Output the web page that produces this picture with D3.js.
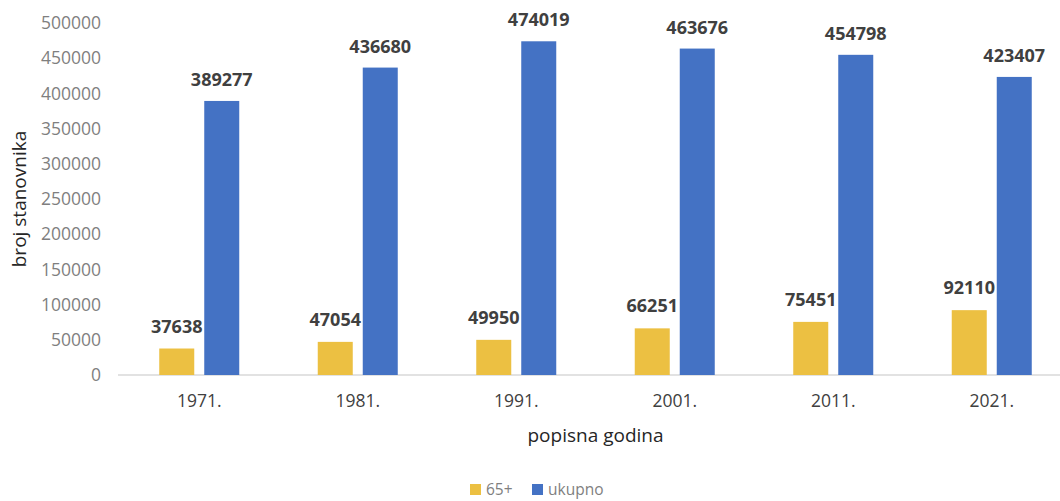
<!DOCTYPE html>
<html>
<head>
<meta charset="utf-8">
<script src="https://cdn.jsdelivr.net/npm/d3@7"></script>
<style>
  body { margin: 0; background: #fff; }
  svg text { font-family: "Open Sans", sans-serif; }
</style>
</head>
<body>
<div id="chart"></div>
<script>
// census years and population counts
var years = ["1971.", "1981.", "1991.", "2001.", "2011.", "2021."];
var elderly = [37638, 47054, 49950, 66251, 75451, 92110];
var total = [389277, 436680, 474019, 463676, 454798, 423407];
var yTicks = [0, 50000, 100000, 150000, 200000, 250000, 300000, 350000, 400000, 450000, 500000];

var svgWidth = 1060;
var svgHeight = 501;

var margin = { top: 23, right: -11, bottom: 126, left: 120 };
var chartWidth = svgWidth - margin.left - margin.right;
var chartHeight = svgHeight - margin.top - margin.bottom;

var svg = d3.select("#chart")
  .append("svg")
  .attr("width", svgWidth)
  .attr("height", svgHeight);

var chartGroup = svg.append("g")
  .attr("transform", `translate(${margin.left}, ${margin.top})`);

var xScale = d3.scaleBand()
  .domain(years)
  .range([0, chartWidth]);

var yScale = d3.scaleLinear()
  .domain([0, 500000])
  .range([chartHeight, 0]);

var barW = 35, gap = 5;

// y axis labels only
var leftAxis = d3.axisLeft(yScale).tickValues(yTicks).tickFormat(d3.format("d")).tickSize(0).tickPadding(19);
var yAxis = chartGroup.append("g").call(leftAxis);
yAxis.select(".domain").remove();
yAxis.selectAll("text").attr("fill", "#7f7f7f").style("font-size", "17.5px");

// x axis baseline
chartGroup.append("line")
  .attr("x1", -2).attr("x2", svgWidth - margin.left)
  .attr("y1", chartHeight).attr("y2", chartHeight)
  .attr("stroke", "#d9d9d9").attr("stroke-width", 1.5);

var bottomAxis = d3.axisBottom(xScale).tickSize(0).tickPadding(20);
var xAxis = chartGroup.append("g")
  .attr("transform", `translate(0, ${chartHeight})`)
  .call(bottomAxis);
xAxis.select(".domain").remove();
xAxis.selectAll("text").attr("fill", "#404040").style("font-size", "17.5px");

// 65+ bars
chartGroup.selectAll(".bar65")
  .data(elderly)
  .enter()
  .append("rect")
  .attr("x", (d, i) => xScale(years[i]) + xScale.bandwidth() / 2 - gap - barW)
  .attr("y", d => yScale(d))
  .attr("width", barW)
  .attr("height", d => chartHeight - yScale(d))
  .attr("fill", "#ecc042");

// total bars
chartGroup.selectAll(".barTot")
  .data(total)
  .enter()
  .append("rect")
  .attr("x", (d, i) => xScale(years[i]) + xScale.bandwidth() / 2 + gap)
  .attr("y", d => yScale(d))
  .attr("width", barW)
  .attr("height", d => chartHeight - yScale(d))
  .attr("fill", "#4472c4");

// value labels
chartGroup.selectAll(".lab65")
  .data(elderly)
  .enter()
  .append("text")
  .attr("x", (d, i) => xScale(years[i]) + xScale.bandwidth() / 2 - gap - barW / 2)
  .attr("y", d => yScale(d) - 16)
  .attr("text-anchor", "middle")
  .attr("fill", "#404040")
  .style("font-size", "18px")
  .style("font-weight", "bold")
  .text(d => d);

chartGroup.selectAll(".labTot")
  .data(total)
  .enter()
  .append("text")
  .attr("x", (d, i) => xScale(years[i]) + xScale.bandwidth() / 2 + gap + barW / 2)
  .attr("y", d => yScale(d) - 15)
  .attr("text-anchor", "middle")
  .attr("fill", "#404040")
  .style("font-size", "18px")
  .style("font-weight", "bold")
  .text(d => d);

// axis titles
chartGroup.append("text")
  .attr("transform", `translate(${-margin.left + 26}, ${chartHeight / 2}) rotate(-90)`)
  .attr("text-anchor", "middle")
  .attr("fill", "#262626")
  .style("font-size", "19px")
  .text("broj stanovnika");

chartGroup.append("text")
  .attr("x", chartWidth / 2)
  .attr("y", chartHeight + 67)
  .attr("text-anchor", "middle")
  .attr("fill", "#262626")
  .style("font-size", "19px")
  .text("popisna godina");

// legend
var legendItems = [["65+", "#ecc042", 470], ["ukupno", "#4472c4", 532]];
var legend = svg.selectAll(".legend")
  .data(legendItems)
  .enter()
  .append("g")
  .attr("transform", d => `translate(${d[2]}, 484)`);
legend.append("rect")
  .attr("width", 11).attr("height", 11)
  .attr("fill", d => d[1]);
legend.append("text")
  .attr("x", 16).attr("y", 11)
  .attr("fill", "#7f7f7f")
  .style("font-size", "15.5px")
  .text(d => d[0]);
</script>
</body>
</html>
